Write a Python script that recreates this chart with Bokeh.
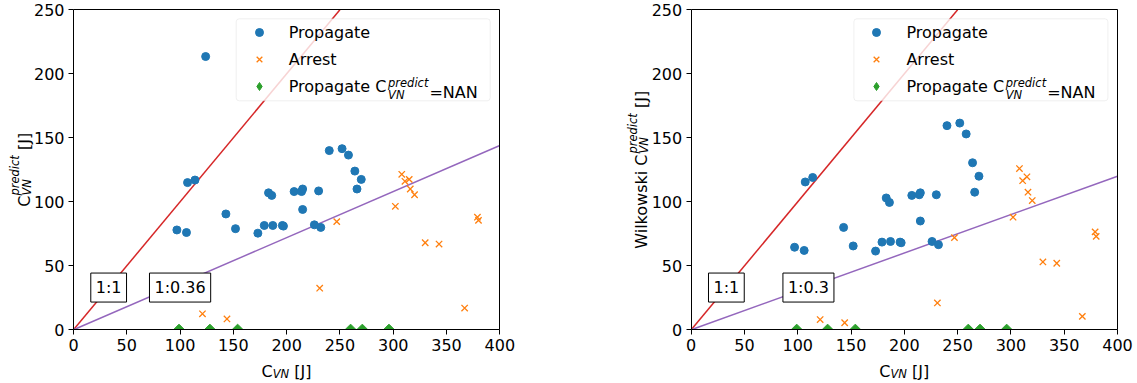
import math
from bokeh.plotting import figure
from bokeh.models import (Label, Legend, LegendItem, FixedTicker, Range1d, LinearAxis,
                          BoxAnnotation)
from bokeh.layouts import row
from bokeh.embed import file_html
from bokeh.resources import INLINE

# ---------------- data ----------------
prop_x = [97, 106, 107, 114, 124, 143, 152, 173, 179, 183, 186, 187, 196, 197,
          207, 214, 215, 215, 226, 230, 232, 240, 252, 258, 264, 266, 270]
prop_y_left = [78, 76, 115, 117, 213.5, 90.5, 79, 75.5, 81.5, 107, 105, 81.5, 81.5, 81,
               108, 108, 110, 94, 82, 108.5, 80, 140, 141.5, 136.5, 124, 110, 117.5]
prop_y_right = [64.5, 62, 115.5, 119, float("nan"), 80, 65.5, 61.5, 68.5, 103, 99.5, 69, 68.5, 68,
                105, 105.5, 107, 85, 69, 105.5, 66.5, 159.5, 161.5, 153, 130.5, 107.5, 120]

arr_x = [121, 144, 231, 247, 302, 308, 311, 315, 316, 320, 330, 343, 367, 379, 380]
arr_y_left = [12.5, 8.5, 32.5, 84.5, 96.5, 121.5, 116, 117.5, 110, 105.5, 68, 67, 17, 88, 85.5]
arr_y_right = [8, 5.5, 21, 72, 88, 126, 116.5, 119.5, 107.5, 101, 53, 52, 10.5, 76.5, 73]

nan_x = [99, 128, 154, 260, 271, 296]
nan_y = [0, 0, 0, 0, 0, 0]

ratio_left = 0.36
ratio_right = 0.3
ratio_label_left = "1:0.36"
ratio_label_right = "1:0.3"
x_ticks = [0, 50, 100, 150, 200, 250, 300, 350, 400]
y_ticks = [0, 50, 100, 150, 200, 250]
X_MAX = 400
Y_MAX = 250

BLUE = "#1f77b4"
ORANGE = "#ff7f0e"
GREEN = "#2ca02c"
RED = "#d62728"
PURPLE = "#9467bd"
FONT = "DejaVu Sans"
FS = 16
SFS = 11.5
H = 383
PX_X = 426.3 / X_MAX
PX_Y = 320.0 / Y_MAX
ZB = 53.7  # pixels from canvas bottom to y=0

# DejaVu Sans advance widths (em)
W = {"W": 0.989, "i": 0.278, "l": 0.278, "k": 0.579, "o": 0.612, "w": 0.818, "s": 0.521,
     " ": 0.318, "C": 0.698, "[": 0.390, "J": 0.295, "]": 0.390, "P": 0.603, "r": 0.411,
     "p": 0.635, "a": 0.613, "g": 0.635, "t": 0.392, "e": 0.615, "=": 0.838, "N": 0.748,
     "A": 0.684, "V": 0.684, "d": 0.635, "c": 0.550}


def tw(s, px):
    return sum(W.get(c, 0.6) for c in s) * px


def add_label(fig, x, y, text, px, style, angle):
    fig.add_layout(Label(x=x, y=y, x_units="screen", y_units="screen", text=text,
                         text_font=FONT, text_font_size=f"{px}px", text_font_style=style,
                         text_color="black", text_align="left", text_baseline="alphabetic",
                         angle=angle))


def rich(fig, groups, x0, y0, rotated=False):
    pos = 0.0
    angle = math.pi / 2 if rotated else 0.0
    for grp in groups:
        adv = 0.0
        for text, px, style, rise in grp:
            body = text.lstrip(" ")
            lead = tw(text[:len(text) - len(body)], px)
            if rotated:
                add_label(fig, x0 - rise, y0 + pos + lead, body, px, style, angle)
            else:
                add_label(fig, x0 + pos + lead, y0 + rise, body, px, style, angle)
            adv = max(adv, tw(text, px))
        pos += adv


def total_width(groups):
    return sum(max(tw(t, px) for t, px, _, _ in g) for g in groups)


def style_axis(ax, ticks):
    ax.ticker = FixedTicker(ticks=ticks)
    ax.axis_line_color = "black"
    ax.axis_line_width = 1
    ax.major_tick_line_color = "black"
    ax.minor_tick_line_color = None
    ax.major_tick_out = 5
    ax.major_tick_in = 0
    ax.major_label_standoff = 4
    ax.major_label_text_font = FONT
    ax.major_label_text_font_size = f"{FS}px"
    ax.major_label_text_color = "black"


def make_panel(width, fl, py, ay, ratio, rlabel, rlabel_x, ylabel_prefix):
    def dx(px_abs):
        return (px_abs - fl) / PX_X

    def dy(py_top):
        return (H - py_top - ZB) / PX_Y

    p = figure(width=width, height=H, output_backend="svg", toolbar_location=None,
               x_range=Range1d(-fl / PX_X, (width - fl) / PX_X),
               y_range=Range1d(-ZB / PX_Y, (H - ZB) / PX_Y),
               min_border=0, min_border_left=0, min_border_right=0,
               min_border_top=0, min_border_bottom=0)
    p.grid.visible = False
    p.outline_line_color = None
    p.background_fill_color = "white"
    p.border_fill_color = "white"

    style_axis(p.xaxis[0], x_ticks)
    p.xaxis[0].fixed_location = 0
    p.xaxis[0].bounds = (0, X_MAX)
    style_axis(p.yaxis[0], y_ticks)
    p.yaxis[0].fixed_location = 0
    p.yaxis[0].bounds = (0, Y_MAX)

    top = LinearAxis(fixed_location=Y_MAX, bounds=(0, X_MAX), ticker=FixedTicker(ticks=[]),
                     axis_line_color="black", major_tick_line_color=None,
                     minor_tick_line_color=None, major_label_text_font_size="0px")
    right = LinearAxis(fixed_location=X_MAX, bounds=(0, Y_MAX), ticker=FixedTicker(ticks=[]),
                       axis_line_color="black", major_tick_line_color=None,
                       minor_tick_line_color=None, major_label_text_font_size="0px")
    p.add_layout(top, "above")
    p.add_layout(right, "right")

    # reference lines y = x and y = ratio*x, ending at the plot box
    for r, col in ((1.0, RED), (ratio, PURPLE)):
        xe = min(X_MAX, Y_MAX / r)
        p.line([0, xe], [0, r * xe], line_color=col, line_width=1.5)

    # legend proxy for the diamond (hidden beneath the real markers)
    r3 = p.scatter(nan_x, nan_y, marker="diamond", size=8, fill_color=GREEN,
                   line_color=GREEN, level="underlay")
    r1 = p.scatter(prop_x, py, marker="circle", size=8, fill_color=BLUE, line_color=BLUE)
    r2 = p.scatter(arr_x, ay, marker="x", size=9, line_color=ORANGE, line_width=1.3)
    p.scatter(nan_x, nan_y, marker="square", angle=math.pi / 4, size=8,
              fill_color=GREEN, line_color=GREEN)

    # mask below the x axis so the markers at y=0 are cut like the plot box clips them
    p.add_layout(BoxAnnotation(left=-8, right=X_MAX + 8, bottom=-8, top=0,
                               fill_color="white", fill_alpha=1, line_color=None,
                               level="glyph"))

    # ratio labels
    for tx, xx in (("1:1", 33), (rlabel, rlabel_x)):
        p.add_layout(Label(x=xx, y=33, text=tx, text_font=FONT, text_font_size=f"{FS}px",
                           text_align="center", text_baseline="middle", text_color="black",
                           border_line_color="black", border_line_width=1,
                           background_fill_color="white", padding=5))

    # legend
    pad, gw, stand, lh, sp, lw = 4, 38, 11, 20, 7, 197
    leg_h = 2 * pad + 3 * lh + 2 * sp
    leg_w = 2 * pad + gw + stand + lw
    leg_top = 18.3
    leg_left = fl + 162.7
    p.add_layout(BoxAnnotation(left=dx(leg_left), right=dx(leg_left + leg_w),
                               top=dy(leg_top), bottom=dy(leg_top + leg_h),
                               fill_color="white", fill_alpha=0.8, line_color="#cccccc",
                               line_width=1, border_radius=3))
    leg = Legend(items=[LegendItem(label="Propagate", renderers=[r1]),
                        LegendItem(label="Arrest", renderers=[r2]),
                        LegendItem(label="Propagate C", renderers=[r3])],
                 location=(leg_left, H - leg_top - leg_h), padding=pad, spacing=sp,
                 glyph_width=gw, glyph_height=lh, label_height=lh, label_width=lw,
                 label_standoff=stand, margin=0,
                 label_text_font=FONT, label_text_font_size=f"{FS}px", label_text_color="black",
                 border_line_color="#cccccc", border_line_width=1, border_line_alpha=0,
                 background_fill_color="white", background_fill_alpha=0)
    p.add_layout(leg)
    text_x0 = leg_left + pad + gw + stand
    row3_center = H - (leg_top + pad + 2 * (lh + sp) + lh / 2)
    base3 = row3_center - 5.6
    sx = text_x0 + tw("Propagate C", FS) + 0.5
    add_label(p, sx, base3 + 9, "predict", SFS, "italic", 0)
    add_label(p, sx, base3 - 2.5, "VN", SFS, "italic", 0)
    add_label(p, sx + tw("predict", SFS) + 1, base3, "=NAN", FS, "normal", 0)

    # x axis label  C_VN [J]
    xg = [[("C", FS, "normal", 0)], [("VN", SFS, "italic", -2)], [(" [J]", FS, "normal", 0)]]
    rich(p, xg, fl + 213 - total_width(xg) / 2, H - 371)

    # y axis label
    yg = [[(ylabel_prefix + "C", FS, "normal", 0)],
          [("predict", SFS, "italic", 9), ("VN", SFS, "italic", -2.5)],
          [(" [J]", FS, "normal", 0)]]
    rich(p, yg, fl - 49.5, ZB + 160 - total_width(yg) / 2, rotated=True)
    return p


p1 = make_panel(568, 73.0, prop_y_left, arr_y_left, ratio_left, ratio_label_left, 100, "")
p2 = make_panel(569, 122.7, prop_y_right, arr_y_right, ratio_right, ratio_label_right, 110,
                "Wilkowski ")

layout = row(p1, p2)
open("out.html", "w").write(file_html(layout, INLINE))
